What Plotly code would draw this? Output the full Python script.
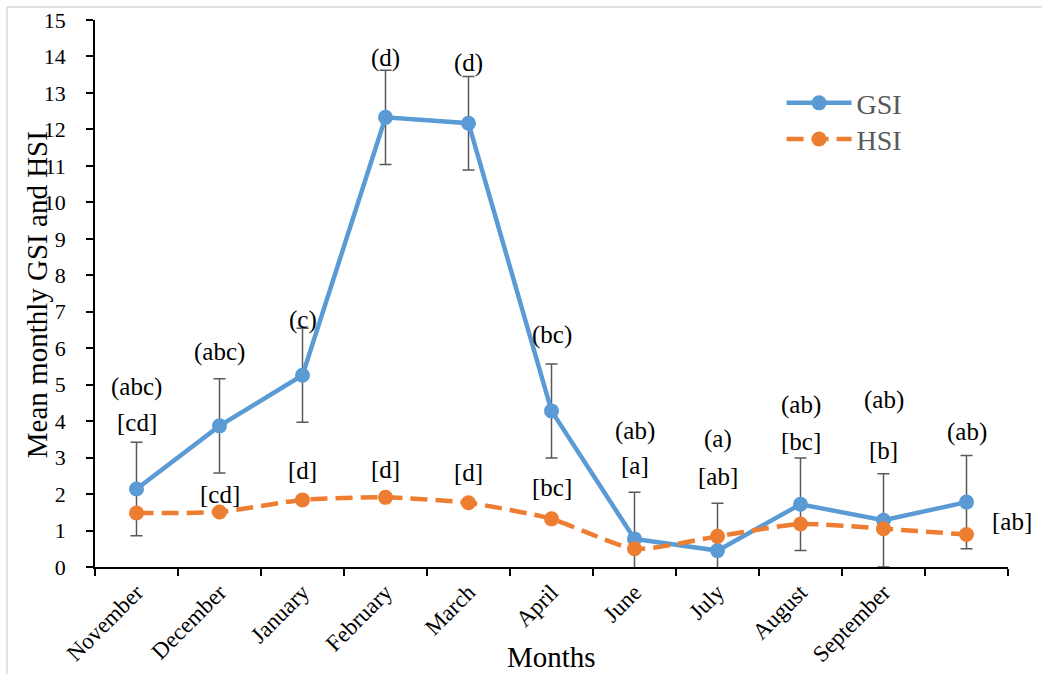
import plotly.graph_objects as go

months = ["November", "December", "January", "February", "March", "April",
          "June", "July", "August", "September", " "]
gsi = [2.14, 3.87, 5.26, 12.33, 12.17, 4.28, 0.77, 0.45, 1.72, 1.28, 1.78]
gsi_err = [1.28, 1.29, 1.29, 1.29, 1.28, 1.29, 1.28, 1.30, 1.27, 1.28, 1.28]
hsi = [1.48, 1.51, 1.84, 1.91, 1.76, 1.32, 0.50, 0.84, 1.18, 1.05, 0.89]

gsi_letters = ["(abc)", "(abc)", "(c)", "(d)", "(d)", "(bc)", "(ab)", "(a)", "(ab)", "(ab)", "(ab)"]
gsi_letter_y = [4.93, 5.90, 6.77, 13.96, 13.82, 6.36, 3.73, 3.52, 4.44, 4.58, 3.70]
hsi_letters = ["[cd]", "[cd]", "[d]", "[d]", "[d]", "[bc]", "[a]", "[ab]", "[bc]", "[b]", "[ab]"]
hsi_letter_y = [3.95, 2.00, 2.66, 2.68, 2.58, 2.17, 2.77, 2.47, 3.43, 3.19, 1.26]
hsi_letter_pos = [0, 1, 2, 3, 4, 5, 6, 7, 8, 9, 10.55]

FONT = "Liberation Serif"
N = len(months)

fig = go.Figure()
fig.add_trace(go.Scatter(
    x=months, y=gsi, name="GSI", mode="lines+markers", legend="legend",
    line=dict(color="#5B9BD5", width=4.5),
    marker=dict(color="#5B9BD5", size=15),
    error_y=dict(type="data", array=gsi_err, visible=True,
                 color="#595959", thickness=1.5, width=6),
))
fig.add_trace(go.Scatter(
    x=months, y=hsi, name="HSI", mode="lines+markers", legend="legend2",
    line=dict(color="#ED7D31", width=4.5, dash="17px,8px", shape="spline", smoothing=0.6),
    marker=dict(color="#ED7D31", size=15),
))

for i, (t, y) in enumerate(zip(gsi_letters, gsi_letter_y)):
    fig.add_annotation(x=(i + 0.5) / N, y=y, text=t, showarrow=False, xref="paper", yref="y",
                       xanchor="center", yanchor="middle",
                       font=dict(family=FONT, size=25, color="black"))
for p, t, y in zip(hsi_letter_pos, hsi_letters, hsi_letter_y):
    fig.add_annotation(x=(p + 0.5) / N, y=y, text=t, showarrow=False, xref="paper", yref="y",
                       xanchor="center", yanchor="middle",
                       font=dict(family=FONT, size=25, color="black"))

# axis titles
fig.add_annotation(x=0.5, y=-0.1645, xref="paper", yref="paper", text="Months",
                   xanchor="center", yanchor="middle",
                   showarrow=False, font=dict(family=FONT, size=29, color="black"))
fig.add_annotation(x=-0.0635, y=0.497, xref="paper", yref="paper", text="Mean monthly GSI and HSI",
                   xanchor="center", yanchor="middle",
                   textangle=-90, showarrow=False, font=dict(family=FONT, size=29, color="black"))

# light outer frame (left and top edges)
fig.add_shape(type="line", xref="paper", yref="paper", x0=-0.0964, x1=-0.0964,
              y0=-0.2, y1=1.0238, line=dict(color="#D9D9D9", width=1.5))
fig.add_shape(type="line", xref="paper", yref="paper", x0=-0.0964, x1=1.1,
              y0=1.0238, y1=1.0238, line=dict(color="#D9D9D9", width=1.5))

legend_style = dict(xanchor="left", yanchor="middle",
                    font=dict(family=FONT, size=28, color="#595959"),
                    bgcolor="rgba(0,0,0,0)", itemwidth=65)

fig.update_layout(
    width=1042, height=674,
    margin=dict(l=95, r=34, t=20, b=107),
    paper_bgcolor="white", plot_bgcolor="white",
    font=dict(family=FONT, color="black"),
    showlegend=True,
    legend=dict(x=0.752, y=0.848, **legend_style),
    legend2=dict(x=0.752, y=0.782, **legend_style),
    xaxis=dict(
        type="category", range=[-0.5, 10.5], tickson="boundaries",
        ticks="outside", ticklen=7, tickcolor="black", tickwidth=1.5,
        showline=True, linecolor="black", linewidth=1.5, showgrid=False,
        tickangle=-45, tickfont=dict(family=FONT, size=23, color="black"),
        ticklabelstandoff=1, zeroline=False, automargin=False,
    ),
    yaxis=dict(
        range=[0, 15], dtick=1, tick0=0,
        ticks="outside", ticklen=7, tickcolor="black", tickwidth=1.5,
        showline=True, linecolor="black", linewidth=1.5, showgrid=False,
        tickfont=dict(family=FONT, size=22, color="black"),
        ticklabelstandoff=16, zeroline=False, automargin=False,
    ),
)

fig.write_html("out.html")
